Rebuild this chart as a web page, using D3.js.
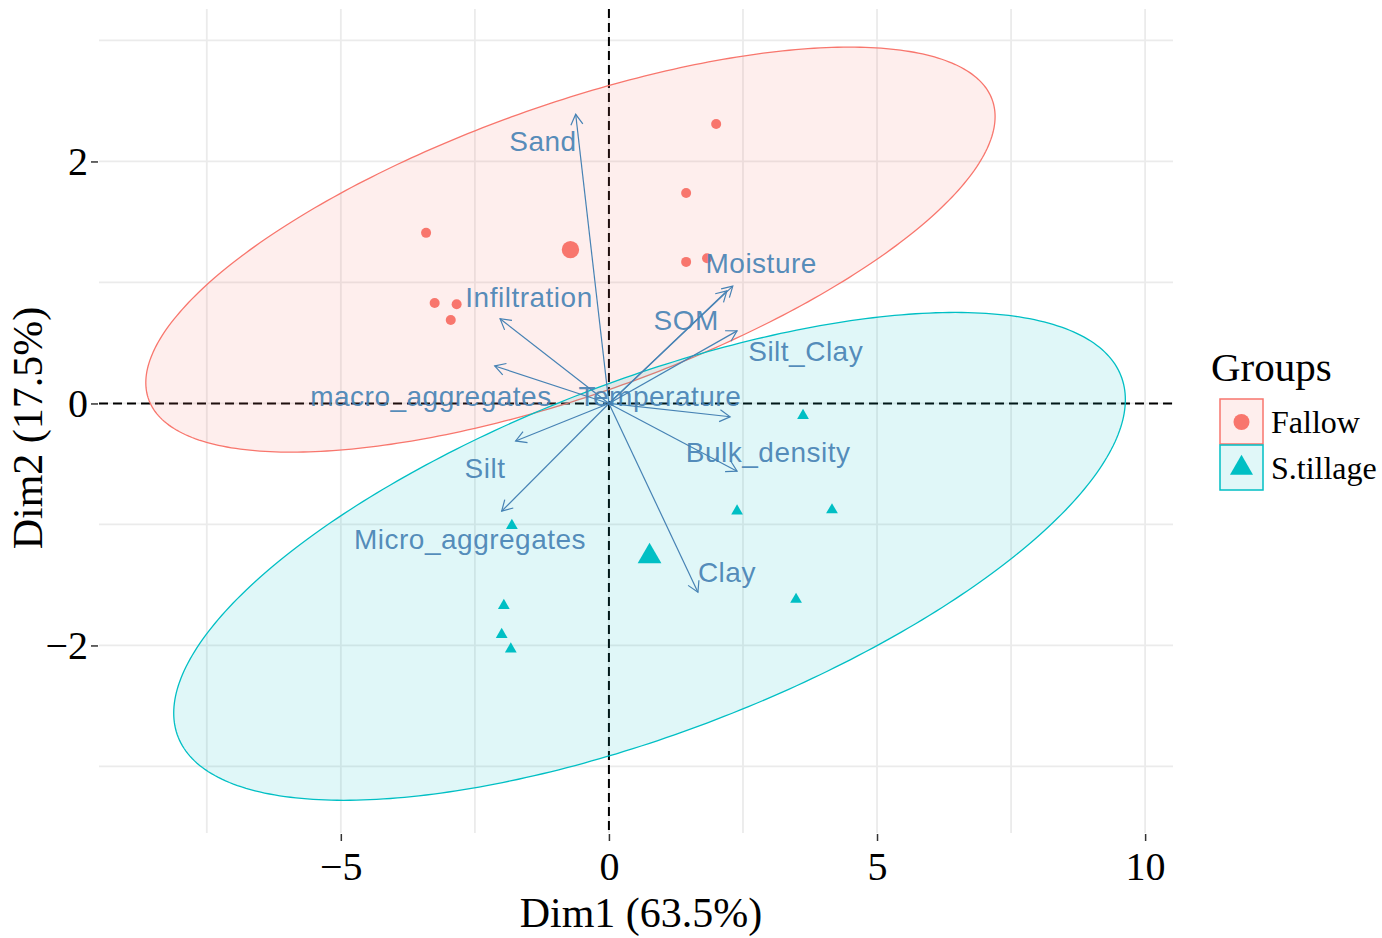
<!DOCTYPE html>
<html><head><meta charset="utf-8">
<script src="https://cdn.jsdelivr.net/npm/d3@7"></script>
<style>body{margin:0;background:#fff}</style>
</head><body>
<svg id="chart" width="1382" height="938"></svg>
<script>
// ---------- data ----------
const groups = ["Fallow", "S.tillage"];
const groupColors = ["#F8766D", "#00BFC4"];
const fallowX = [-3.41, -3.25, -2.84, -2.95, 1.44, 2.00, 1.44, 1.83];
const fallowY = [1.41, 0.83, 0.82, 0.69, 1.74, 2.31, 1.17, 1.20];
const tillageX = [3.62, 2.39, 4.16, 3.49, -1.81, -1.96, -2.00, -1.83];
const tillageY = [-0.10, -0.89, -0.88, -1.62, -1.01, -1.67, -1.91, -2.03];

const varNames = ["Sand", "Infiltration", "macro_aggregates", "Silt", "Micro_aggregates",
                  "Clay", "Bulk_density", "Temperature", "Silt_Clay", "SOM", "Moisture"];
const varX = [-0.62, -2.03, -2.13, -1.74, -2.00, 1.66, 2.39, 2.26, 2.39, 2.20, 2.31];
const varY = [2.39, 0.70, 0.31, -0.31, -0.89, -1.56, -0.56, -0.11, 0.60, 0.93, 0.97];
const varLabelX = [-1.23, -1.49, -3.32, -2.31, -2.59, 2.20, 2.97, 0.95, 3.67, 1.44, 2.84];
const varLabelY = [2.17, 0.88, 0.06, -0.53, -1.12, -1.39, -0.40, 0.06, 0.43, 0.69, 1.16];

const xTicks = [-5, 0, 5, 10];
const xTickLabels = ["\u22125", "0", "5", "10"];
const yTicks = [-2, 0, 2];
const yTickLabels = ["\u22122", "0", "2"];
const xMinor = [-7.5, -2.5, 2.5, 7.5];
const yMinor = [-3, -1, 1, 3];
const xTitle = "Dim1 (63.5%)";
const yTitle = "Dim2 (17.5%)";
const legendTitle = "Groups";
const ellipseLevel = 0.95;

// ---------- layout ----------
const svg = d3.select("#chart");
const panel = {left: 99, right: 1173, top: 9, bottom: 833};
const x = d3.scaleLinear().domain([-9.51, 10.52]).range([panel.left, panel.right]);
const y = d3.scaleLinear().domain([-3.55, 3.26]).range([panel.bottom, panel.top]);
const serif = "'Liberation Serif','Times New Roman',serif";
const sans = "'Liberation Sans',Arial,sans-serif";
const varColor = "#4682B4";
const fillAlpha = 0.12;

// grid
const grid = svg.append("g");
grid.selectAll(".vx").data(xMinor.concat(xTicks)).join("line")
  .attr("x1", d => x(d)).attr("x2", d => x(d))
  .attr("y1", panel.top).attr("y2", panel.bottom)
  .attr("stroke", "#EBEBEB").attr("stroke-width", 1.8);
grid.selectAll(".hy").data(yMinor.concat(yTicks)).join("line")
  .attr("y1", d => y(d)).attr("y2", d => y(d))
  .attr("x1", panel.left).attr("x2", panel.right)
  .attr("stroke", "#EBEBEB").attr("stroke-width", 1.8);

// axes (ticks + labels)
const xAxis = d3.axisBottom(x).tickValues(xTicks).tickFormat((d, i) => xTickLabels[i])
  .tickSizeOuter(0).tickSizeInner(7).tickPadding(6);
const gx = svg.append("g").attr("transform", `translate(0,${panel.bottom + 1})`).call(xAxis);
gx.select(".domain").remove();
gx.selectAll(".tick line").attr("stroke", "#333").attr("stroke-width", 1.5);
gx.selectAll(".tick text").attr("font-family", serif).attr("font-size", 40).attr("fill", "#000")
  .attr("dy", null).attr("y", 46);

const yAxis = d3.axisLeft(y).tickValues(yTicks).tickFormat((d, i) => yTickLabels[i])
  .tickSizeOuter(0).tickSizeInner(7).tickPadding(3);
const gy = svg.append("g").attr("transform", `translate(${panel.left - 1},0)`).call(yAxis);
gy.select(".domain").remove();
gy.selectAll(".tick line").attr("stroke", "#333").attr("stroke-width", 1.5);
gy.selectAll(".tick text").attr("font-family", serif).attr("font-size", 40).attr("fill", "#000")
  .attr("dy", "0.33em");

// axis titles
svg.append("text").attr("x", 641).attr("y", 927).attr("text-anchor", "middle")
  .attr("font-family", serif).attr("font-size", 42).text(xTitle);
svg.append("text").attr("transform", "translate(42,428) rotate(-90)").attr("text-anchor", "middle")
  .attr("font-family", serif).attr("font-size", 42).text(yTitle);

// dashed zero lines
svg.append("line").attr("x1", x(0)).attr("x2", x(0)).attr("y1", panel.top).attr("y2", panel.bottom)
  .attr("stroke", "#000").attr("stroke-width", 2).attr("stroke-dasharray", "9,5");
svg.append("line").attr("y1", y(0)).attr("y2", y(0)).attr("x1", panel.left).attr("x2", panel.right)
  .attr("stroke", "#000").attr("stroke-width", 2).attr("stroke-dasharray", "9,5");

// ---------- ellipses (normal, 95%) computed from the points ----------
function ellipse(xs, ys, level) {
  const n = xs.length;
  const mx = d3.mean(xs), my = d3.mean(ys);
  let sxx = 0, syy = 0, sxy = 0;
  for (let i = 0; i < n; i++) {
    sxx += (xs[i] - mx) ** 2; syy += (ys[i] - my) ** 2; sxy += (xs[i] - mx) * (ys[i] - my);
  }
  sxx /= n - 1; syy /= n - 1; sxy /= n - 1;
  const d2 = n - 1;
  const qf = (d2 / 2) * (Math.pow(1 - level, -2 / d2) - 1);
  const R = Math.sqrt(2 * qf);
  const a = Math.sqrt(sxx), b = sxy / a, c = Math.sqrt(syy - b * b);
  return d3.range(0, 361).map(k => {
    const t = k * Math.PI / 180;
    return [mx + R * a * Math.cos(t), my + R * (b * Math.cos(t) + c * Math.sin(t))];
  });
}
const groupData = [
  {xs: fallowX, ys: fallowY},
  {xs: tillageX, ys: tillageY}
];
const line = d3.line().x(d => x(d[0])).y(d => y(d[1]));
groupData.forEach((g, i) => {
  svg.append("path").attr("d", line(ellipse(g.xs, g.ys, ellipseLevel)) + "Z")
    .attr("fill", groupColors[i]).attr("fill-opacity", fillAlpha)
    .attr("stroke", groupColors[i]).attr("stroke-width", 1.3);
});

// ---------- individual points + group means ----------
const tri = d3.symbol().type(d3.symbolTriangle);
groupData.forEach((g, i) => {
  const pts = g.xs.map((v, k) => [v, g.ys[k]]);
  const mean = [d3.mean(g.xs), d3.mean(g.ys)];
  if (i === 0) {
    svg.append("g").selectAll("circle").data(pts).join("circle")
      .attr("cx", d => x(d[0])).attr("cy", d => y(d[1])).attr("r", 5).attr("fill", groupColors[i]);
    svg.append("circle").attr("cx", x(mean[0])).attr("cy", y(mean[1])).attr("r", 8.7).attr("fill", groupColors[i]);
  } else {
    svg.append("g").selectAll("path").data(pts).join("path")
      .attr("d", tri.size(60)()).attr("transform", d => `translate(${x(d[0])},${y(d[1])})`)
      .attr("fill", groupColors[i]);
    svg.append("path").attr("d", tri.size(245)())
      .attr("transform", `translate(${x(mean[0])},${y(mean[1])})`).attr("fill", groupColors[i]);
  }
});

// ---------- variable arrows ----------
function headPath(x0, y0, x1, y1, len, ang) {
  const a = Math.atan2(y1 - y0, x1 - x0);
  const p = d3.path();
  p.moveTo(x1 - len * Math.cos(a - ang), y1 - len * Math.sin(a - ang));
  p.lineTo(x1, y1);
  p.lineTo(x1 - len * Math.cos(a + ang), y1 - len * Math.sin(a + ang));
  return p.toString();
}
const arrows = svg.append("g").attr("fill", "none").attr("stroke", varColor).attr("stroke-width", 1.2);
varNames.forEach((nm, i) => {
  const x0 = x(0), y0 = y(0), x1 = x(varX[i]), y1 = y(varY[i]);
  arrows.append("line").attr("x1", x0).attr("y1", y0).attr("x2", x1).attr("y2", y1);
  arrows.append("path").attr("d", headPath(x0, y0, x1, y1, 12, Math.PI / 6));
});
svg.append("g").selectAll("text").data(varNames).join("text")
  .attr("x", (d, i) => x(varLabelX[i])).attr("y", (d, i) => y(varLabelY[i]) + 10)
  .attr("text-anchor", "middle").attr("font-family", sans).attr("font-size", 28)
  .attr("letter-spacing", 0.5)
  .attr("fill", varColor).attr("fill-opacity", 0.92).text(d => d);

// ---------- legend ----------
const lg = svg.append("g");
lg.append("text").attr("x", 1211).attr("y", 381).attr("font-family", serif).attr("font-size", 41).text(legendTitle);
groups.forEach((gname, i) => {
  const top = 399 + i * 46;
  lg.append("rect").attr("x", 1220).attr("y", top).attr("width", 43).attr("height", 45)
    .attr("fill", groupColors[i]).attr("fill-opacity", fillAlpha)
    .attr("stroke", groupColors[i]).attr("stroke-width", 1.5);
  if (i === 0) {
    lg.append("circle").attr("cx", 1241.5).attr("cy", top + 23).attr("r", 8).attr("fill", groupColors[i]);
  } else {
    lg.append("path").attr("d", tri.size(230)()).attr("transform", `translate(1241.5,${top + 23})`)
      .attr("fill", groupColors[i]);
  }
  lg.append("text").attr("x", 1271).attr("y", top + 23 + 11).attr("font-family", serif)
    .attr("font-size", 32).text(gname);
});
</script>
</body></html>
